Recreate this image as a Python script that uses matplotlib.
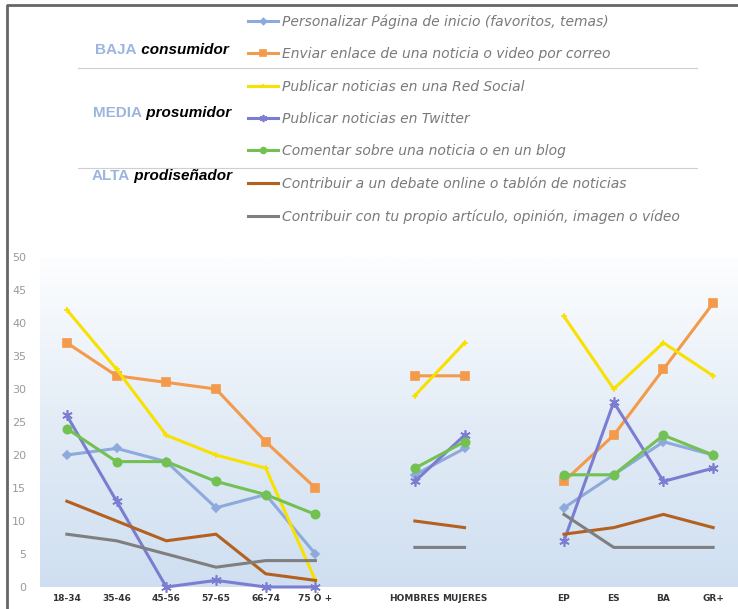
import numpy as np
import matplotlib
matplotlib.use("Agg")
import matplotlib.pyplot as plt
from matplotlib.lines import Line2D
from matplotlib.colors import LinearSegmentedColormap

# %% datos (None = hueco entre grupos)
categorias = ["18-34", "35-46", "45-56", "57-65", "66-74", "75 Ó +", "",
              "HOMBRES", "MUJERES", "", "EP", "ES", "BA", "GR+"]

personalizar = [20, 21, 19, 12, 14, 5, None, 17, 21, None, 12, 17, 22, 20]
enviar = [37, 32, 31, 30, 22, 15, None, 32, 32, None, 16, 23, 33, 43]
red_social = [42, 33, 23, 20, 18, 1, None, 29, 37, None, 41, 30, 37, 32]
twitter = [26, 13, 0, 1, 0, 0, None, 16, 23, None, 7, 28, 16, 18]
comentar = [24, 19, 19, 16, 14, 11, None, 18, 22, None, 17, 17, 23, 20]
debate = [13, 10, 7, 8, 2, 1, None, 10, 9, None, 8, 9, 11, 9]
propio = [8, 7, 5, 3, 4, 4, None, 6, 6, None, 11, 6, 6, 6]

etiquetas = ["Personalizar Página de inicio (favoritos, temas)",
             "Enviar enlace de una noticia o video por correo",
             "Publicar noticias en una Red Social",
             "Publicar noticias en Twitter",
             "Comentar sobre una noticia o en un blog",
             "Contribuir a un debate online o tablón de noticias",
             "Contribuir con tu propio artículo, opinión, imagen o vídeo"]

niveles = ["BAJA", "MEDIA", "ALTA"]
perfiles = ["consumidor", "prosumidor", "prodiseñador"]

series = [personalizar, enviar, red_social, twitter, comentar, debate, propio]
colores = ["#8EAADC", "#F39A4B", "#F8E000", "#7B7ED0", "#72C152", "#B4601F", "#7F7F7F"]
marcadores = ["D", "s", "+", (6, 2, 0), "o", None, None]
tam_marc = [4.5, 6, 5, 7.5, 6, 0, 0]

# %%
W, H = 738, 609
fig = plt.figure(figsize=(W / 100, H / 100), dpi=100)
fig.patch.set_facecolor("white")

ax = fig.add_axes([40 / W, 22 / H, (W - 40) / W, 330 / H])
x = np.arange(len(categorias))
x0 = -0.54
x1 = 13.5
ax.set_xlim(x0, x1)
ax.set_ylim(0, 50)

# fondo degradado
cmap = LinearSegmentedColormap.from_list("fondo", ["#CFDFF1", "#E3ECF6", "#FDFEFF"])
grad = np.linspace(0, 1, 256).reshape(-1, 1)
ax.imshow(grad, cmap=cmap, aspect="auto", origin="lower",
          extent=[x0, x1, 0, 50], zorder=0)

lineas = []
for s, c, m, ms, lab in zip(series, colores, marcadores, tam_marc, etiquetas):
    y = np.array([np.nan if v is None else v for v in s], dtype=float)
    ln, = ax.plot(x, y, color=c, lw=2.2, marker=m, markersize=ms,
                  markeredgewidth=1.2, label=lab, zorder=3, clip_on=False)
    lineas.append(ln)

for sp in ax.spines.values():
    sp.set_visible(False)
ax.set_yticks(np.arange(0, 51, 5))
ax.tick_params(axis="y", length=0, pad=10, labelsize=8, labelcolor="#9a9a9a")
ticks_x = [i for i, c in enumerate(categorias) if c]
ax.set_xticks(ticks_x)
ax.set_xticklabels([categorias[i] for i in ticks_x], fontsize=6.5,
                   fontweight="bold", color="#333333")
ax.tick_params(axis="x", length=0, pad=5)

# leyenda
leg = fig.legend(handles=lineas, loc="upper left",
                 bbox_to_anchor=(248 / W, 1 - 14.5 / H), frameon=False,
                 borderpad=0, borderaxespad=0, handlelength=2.15,
                 handletextpad=0.3, labelspacing=1.32, markerscale=0.7,
                 prop={"family": "DejaVu Sans", "style": "italic", "size": 10},
                 labelcolor="#7a7a7a")

# grupos de la izquierda
ys = [50, 113, 176]
r = fig.canvas.get_renderer()
for nv, pf, yy in zip(niveles, perfiles, ys):
    t1 = fig.text(0, 1 - yy / H, nv, color="#9BB5DF", fontsize=11,
                  fontweight="bold", family="Liberation Sans", va="center")
    t2 = fig.text(0, 1 - yy / H, " " + pf, color="black", fontsize=11,
                  fontweight="bold", style="italic", family="Liberation Sans",
                  va="center")
    w1 = t1.get_window_extent(r).width
    w2 = t2.get_window_extent(r).width
    xs = 162 - (w1 + w2) / 2
    t1.set_x(xs / W)
    t2.set_x((xs + w1) / W)

# separadores
for yy in [68, 168]:
    fig.add_artist(Line2D([78 / W, 697 / W], [1 - yy / H, 1 - yy / H],
                          color="#cfcfcf", lw=0.8))

# marco
fig.add_artist(Line2D([7 / W, 7 / W, 1], [0, 1 - 5 / H, 1 - 5 / H],
                      color="#666666", lw=2))

fig.savefig("out.png", dpi=100)
